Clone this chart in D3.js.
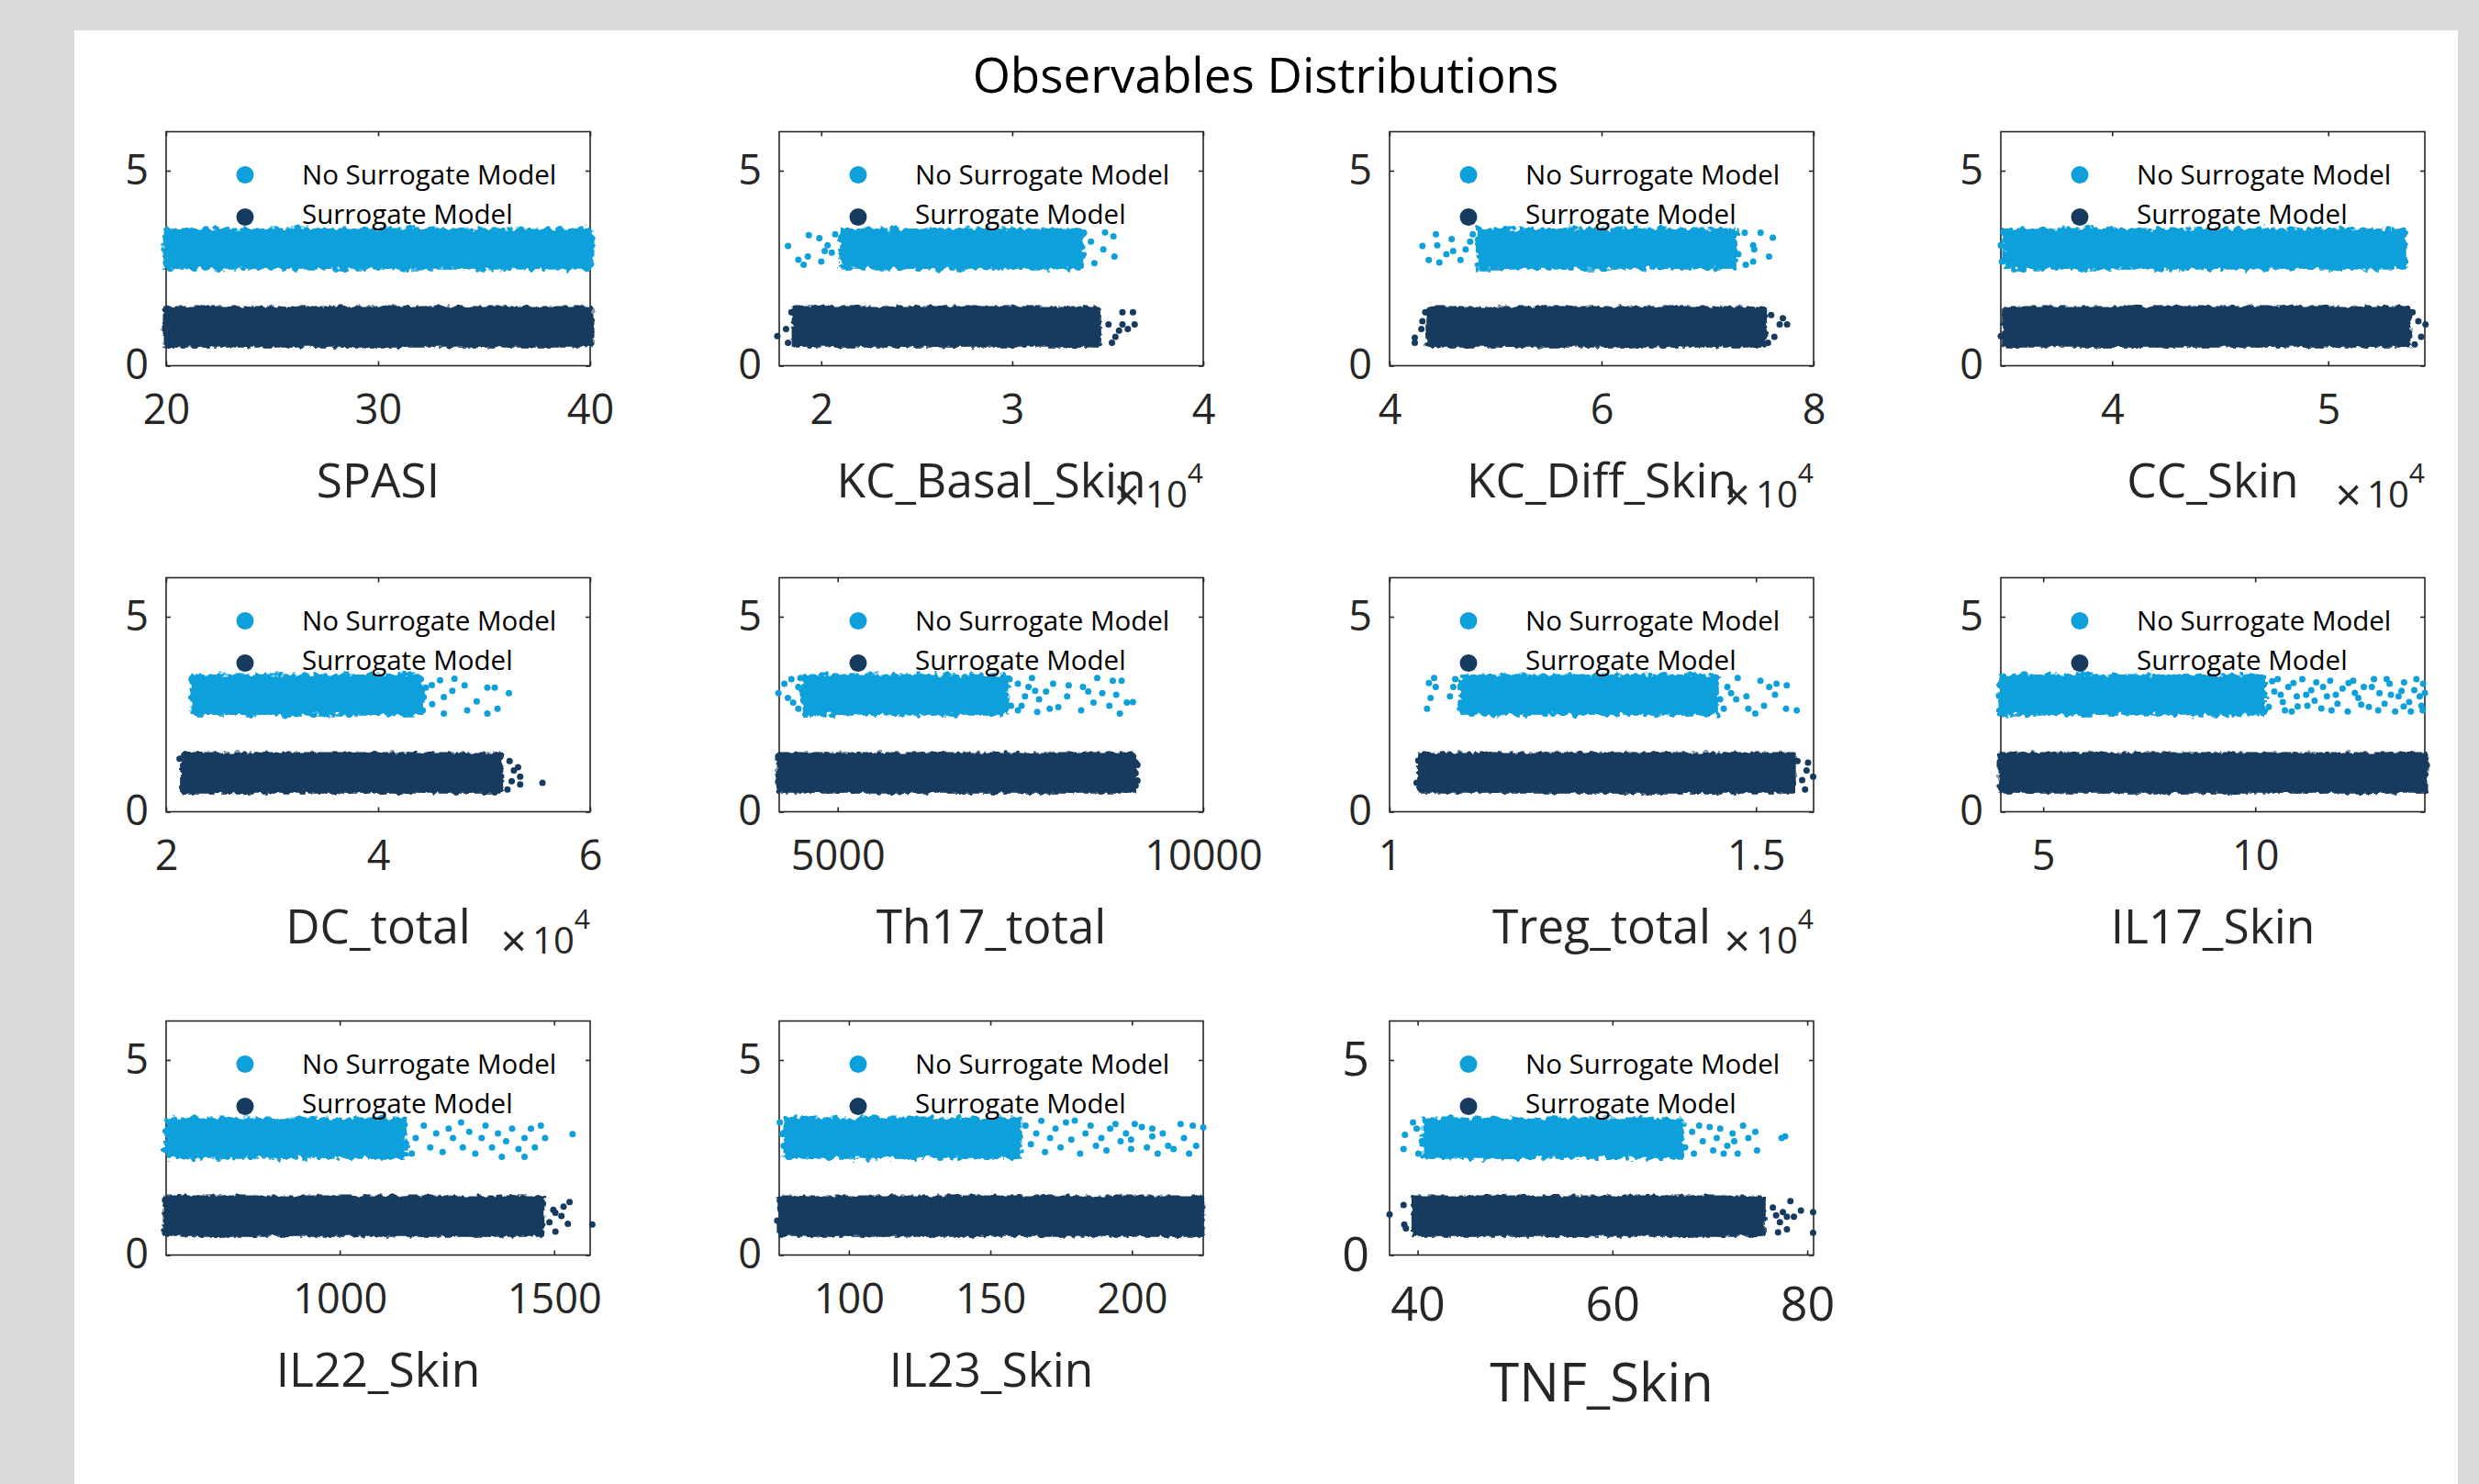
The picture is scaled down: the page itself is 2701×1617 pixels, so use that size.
<!DOCTYPE html>
<html><head><meta charset="utf-8">
<script src="https://cdn.jsdelivr.net/npm/d3@7/dist/d3.min.js"></script>
<style>html,body{margin:0;padding:0;background:#d9d9d9;}svg{display:block;}</style>
</head><body>
<svg id="chart" width="2701" height="1617"></svg>
<script>
// ---------------- data ----------------
const chartTitle = "Observables Distributions";
const observables = ["SPASI","KC_Basal_Skin","KC_Diff_Skin","CC_Skin","DC_total","Th17_total","Treg_total","IL17_Skin","IL22_Skin","IL23_Skin","TNF_Skin"];
const xLimits = [[20,40],[17800,40000],[40000,80000],[34850,54470],[20000,60000],[4200,10000],[10000,15786],[4,14],[595,1584],[75.4,225.2],[37.12,80.65]];
const xTickValues = [[20,30,40],[20000,30000,40000],[40000,60000,80000],[40000,50000],[20000,40000,60000],[5000,10000],[10000,15000],[5,10],[1000,1500],[100,150,200],[40,60,80]];
const exponents = [0,4,4,4,4,0,4,0,0,0,0];
const yLimits = [0,6];
const yTickValues = [0,5];
const seriesNames = ["No Surrogate Model","Surrogate Model"];
const seriesLevels = [3,1];
const jitterHalfWidth = 0.45;

// dense part of each cloud: [xFrom, xTo]
const coreNoSurrogate = [[20,40],[21100,33600],[48500,72500],[35100,53500],[22600,44000],[4540,7300],[11000,14450],[4,10.2],[598,1150],[78,160],[40.8,67.0]];
const coreSurrogate   = [[20,40],[18620,34490],[43700,75300],[35050,53700],[21700,51500],[4200,9050],[10420,15500],[4,14],[595,1470],[76,224.5],[39.7,75.4]];

// scattered samples outside the dense part: [x, y]
const sparseNoSurrogate = [
  [],
  [[18260,3.07],[18800,2.72],[19080,2.59],[19350,3.35],[19300,2.80],[19900,3.27],[20000,2.67],[20330,3.09],[20550,2.90],[20730,3.37],[20180,2.94],[33750,3.41],[34120,3.18],[34300,2.63],[34860,3.42],[34770,2.98],[35300,3.32],[35350,2.80],[33200,3.45],[32840,3.25],[32100,2.78],[32660,2.63]],
  [[43100,3.07],[43700,2.71],[44370,3.37],[44500,3.09],[44700,2.65],[45360,2.86],[45860,3.25],[46000,2.94],[46690,2.71],[47180,2.98],[47850,3.37],[47600,3.18],[73500,3.41],[73600,2.59],[74300,3.09],[74400,2.98],[74300,2.67],[75000,3.41],[75800,2.80],[76150,3.28],[72900,2.86],[72400,3.41]],
  [[34850,3.09],[34900,2.67],[35340,3.37],[53500,3.37],[53500,2.63]],
  [[22400,3.40],[23000,2.57],[44300,2.94],[45070,3.25],[45840,3.37],[46200,2.94],[46200,2.52],[47200,3.41],[48160,3.24],[48400,2.60],[49300,2.83],[50300,3.18],[50300,2.52],[51260,2.64],[51000,3.18],[52340,3.04],[44500,3.18],[45100,2.76],[47000,3.10],[44200,2.60],[44000,3.40]],
  [[4189,3.04],[4270,3.28],[4319,2.92],[4391,2.80],[4367,3.40],[4462,3.20],[4462,2.64],[4490,3.43],[7370,2.72],[7465,3.28],[7562,2.96],[7657,3.43],[7730,2.56],[7850,3.08],[7946,3.28],[8018,2.68],[8138,2.96],[8160,3.24],[8330,2.60],[8355,3.20],[8499,2.80],[8550,3.43],[8619,3.04],[8715,2.72],[8763,3.36],[8859,2.52],[8883,3.36],[8955,2.80],[9038,2.81],[8810,3.00],[8427,3.08],[7515,2.72],[7610,3.20],[7755,2.88],[7900,2.64],[7465,2.60],[7350,3.40],[7700,3.10]],
  [[10512,2.64],[10537,3.30],[10560,2.92],[10608,3.43],[10630,3.20],[10824,2.96],[10896,3.40],[10870,3.20],[14510,2.88],[14610,3.20],[14750,3.43],[14730,2.88],[14895,2.64],[14870,2.96],[14990,2.52],[15060,3.36],[15110,2.72],[15180,3.20],[15260,3.00],[15280,3.28],[15420,3.24],[15410,2.64],[15556,2.60],[14660,3.04],[14560,2.64]],
  [[10.32,2.69],[10.45,3.08],[10.53,3.40],[10.65,2.81],[10.78,3.20],[10.86,2.57],[10.98,2.96],[11.11,3.40],[11.23,2.72],[11.32,3.12],[11.44,3.32],[11.56,2.65],[11.69,2.96],[11.77,3.36],[11.94,2.77],[12.06,3.16],[12.18,2.57],[12.31,3.36],[12.43,2.92],[12.56,3.20],[12.68,2.69],[12.80,3.40],[12.93,3.04],[13.05,2.77],[13.17,3.28],[13.30,2.57],[13.38,2.96],[13.51,3.32],[13.63,2.81],[13.75,3.12],[13.88,2.96],[13.96,3.28],[13.92,2.72],[13.67,2.57],
   [10.4,3.35],[10.6,3.0],[10.9,3.3],[11.0,2.7],[11.4,2.85],[11.6,3.2],[11.9,3.0],[12.2,3.3],[12.5,2.75],[12.9,2.6],[13.2,3.0],[13.5,2.7],[13.8,3.4],[14.0,3.05],[10.7,2.6],[11.2,3.0],[11.8,2.6],[12.35,3.05],[12.75,3.2],[13.1,3.4],[13.45,3.1],[13.95,2.6]],
  [[1168,2.60],[1177,3.00],[1196,3.32],[1211,2.76],[1225,3.12],[1240,2.64],[1254,3.24],[1264,3.00],[1283,3.40],[1287,2.76],[1302,3.16],[1316,2.60],[1331,3.00],[1340,3.32],[1355,2.76],[1369,3.12],[1378,2.52],[1388,2.92],[1402,3.24],[1417,2.72],[1431,3.00],[1446,3.24],[1455,2.76],[1469,3.32],[1479,3.00],[1543,3.10],[1431,2.52]],
  [[75.6,3.40],[77,2.80],[76.5,3.1],[162.4,3.32],[164.3,2.84],[166.2,3.12],[168.0,3.44],[169.3,2.64],[171.1,3.00],[173.0,3.24],[174.8,2.76],[176.7,3.40],[178.6,2.96],[179.8,3.45],[181.7,2.60],[183.6,3.12],[185.4,3.32],[187.3,2.80],[189.2,3.00],[191.0,2.68],[192.3,3.24],[194.2,3.36],[196.0,2.92],[197.9,3.12],[199.7,2.72],[201.0,3.36],[203.5,3.28],[205.3,2.76],[207.2,3.04],[209.1,2.60],[210.9,3.12],[212.8,2.80],[214.7,2.72],[217.2,3.36],[218.4,3.00],[220.2,2.60],[221.5,3.32],[222.7,2.80],[225.2,3.27],[207.2,3.24],[199.7,2.96]],
  [[38.56,2.72],[38.7,3.08],[39.53,3.40],[40.08,2.60],[39.9,3.24],[40.43,2.92],[41.5,3.44],[67.46,2.76],[68.18,3.16],[68.36,2.60],[68.9,3.32],[69.98,3.28],[70.34,2.68],[70.71,3.00],[71.06,3.24],[71.79,2.80],[72.33,3.12],[72.86,2.60],[73.41,3.32],[73.95,3.00],[74.67,3.16],[74.85,2.68],[77.37,3.00],[77.73,3.04],[71.42,2.60],[69.27,2.92],[72.5,2.92]]
];
const sparseSurrogate = [
  [],
  [[17700,0.76],[18160,0.94],[18260,0.59],[18440,1.37],[35040,1.06],[35400,0.74],[35770,1.06],[35770,1.37],[36320,1.37],[36410,1.06],[36050,0.94],[35220,0.59],[35590,0.90]],
  [[42380,0.72],[42380,0.59],[43000,0.94],[43100,1.14],[43370,1.37],[44000,0.55],[76000,1.30],[76800,1.06],[77500,1.06],[76300,0.74],[75700,0.59],[77100,1.22]],
  [[34850,0.76],[35100,1.14],[54170,1.14],[54500,1.06],[54300,0.74],[54000,0.55],[53900,1.37]],
  [[21270,1.36],[55500,0.74],[53400,0.70],[53400,0.90],[53200,1.14],[52400,1.30],[52200,0.57],[52800,1.06],[52600,0.78]],
  [[9075,0.99],[9075,0.67],[8930,1.42],[9100,1.2],[9100,0.8]],
  [[10393,1.31],[10369,0.74],[15566,1.30],[15710,1.26],[15780,0.90],[15690,1.06],[15670,0.57],[15630,0.81]],
  [],
  [[1589,0.78],[1536,1.36],[1532,0.80],[1503,0.60],[1517,1.00],[1498,1.16],[1474,1.32],[1522,1.24],[1489,0.84],[1503,1.08]],
  [[74.7,0.88],[76.0,1.16]],
  [[37.12,1.04],[38.56,1.28],[38.63,0.78],[38.8,0.68],[76.47,1.22],[77.19,0.84],[77.91,0.98],[78.27,1.38],[78.63,0.98],[77.91,0.66],[77.0,0.58],[79.35,1.14],[80.6,1.10],[80.6,0.57],[76.8,1.02],[77.5,1.10]]
];

// ---------------- layout & style ----------------
const FONT = "'Open Sans', Lato, sans-serif";
const seriesColors = ["#0DA0DA", "#173A5F"];
const axisColor = "#262626";
const colLeft = [181, 849, 1514, 2180];
const rowTop = [143.5, 629.5, 1112.5];
const axW = 462, axH = 255, tickLen = 5, markerR = 3.5;

const svg = d3.select("#chart");
// edge roughening so the dense clouds read as piles of markers
const defs = svg.append("defs");
function roughFilter(id, scale, freq, seed) {
  const f = defs.append("filter").attr("id", id)
    .attr("x", "-3%").attr("y", "-40%").attr("width", "106%").attr("height", "180%");
  f.append("feTurbulence").attr("type", "fractalNoise").attr("baseFrequency", freq)
    .attr("numOctaves", 2).attr("seed", seed).attr("result", "noise");
  f.append("feDisplacementMap").attr("in", "SourceGraphic").attr("in2", "noise")
    .attr("scale", scale).attr("xChannelSelector", "R").attr("yChannelSelector", "G");
}
roughFilter("roughLight", 12, 0.14, 5);
roughFilter("roughDark", 7, 0.16, 9);
const bandFilters = ["url(#roughLight)", "url(#roughDark)"];

svg.append("rect").attr("width", 2701).attr("height", 1617).attr("fill", "#d9d9d9");
svg.append("rect").attr("x", 81).attr("y", 33).attr("width", 2597).attr("height", 1584).attr("fill", "#ffffff");
svg.append("text").attr("x", 1379).attr("y", 101).attr("text-anchor", "middle")
  .attr("font-family", FONT).attr("font-size", 53).attr("fill", "#000").text(chartTitle);

function styleAxis(sel, fs) {
  sel.select(".domain").remove();
  sel.selectAll("line").attr("stroke", axisColor).attr("stroke-width", 1.6);
  sel.selectAll("text").attr("font-family", FONT).attr("font-size", fs).attr("fill", axisColor);
}

observables.forEach((name, i) => {
  const col = i % 4, row = Math.floor(i / 4);
  const L = colLeft[col], T = rowTop[row], R = L + axW, B = T + axH;
  const big = (i === observables.length - 1);
  const tickFs = big ? 52 : 45, labelFs = big ? 58 : 51.5;
  const x = d3.scaleLinear().domain(xLimits[i]).range([L, R]);
  const y = d3.scaleLinear().domain(yLimits).range([B, T]);
  const g = svg.append("g");

  g.append("rect").attr("x", L).attr("y", T).attr("width", axW).attr("height", axH)
    .attr("fill", "none").attr("stroke", axisColor).attr("stroke-width", 1.6);

  const p = Math.pow(10, exponents[i]);
  const fmt = v => String(+(v / p).toPrecision(6));
  styleAxis(g.append("g").attr("transform", `translate(0,${B})`)
    .call(d3.axisBottom(x).tickValues(xTickValues[i]).tickFormat(fmt).tickSizeInner(-tickLen).tickSizeOuter(0).tickPadding(big ? 35 : 32)), tickFs);
  styleAxis(g.append("g").attr("transform", `translate(0,${T})`)
    .call(d3.axisTop(x).tickValues(xTickValues[i]).tickFormat("").tickSizeInner(-tickLen).tickSizeOuter(0)), tickFs);
  styleAxis(g.append("g").attr("transform", `translate(${L},0)`)
    .call(d3.axisLeft(y).tickValues(yTickValues).tickFormat(d3.format("d")).tickSizeInner(-tickLen).tickSizeOuter(0).tickPadding(big ? 22 : 19)), tickFs);
  styleAxis(g.append("g").attr("transform", `translate(${R},0)`)
    .call(d3.axisRight(y).tickValues(yTickValues).tickFormat("").tickSizeInner(-tickLen).tickSizeOuter(0)), tickFs);

  const series = [
    {name: seriesNames[0], level: seriesLevels[0], color: seriesColors[0], core: coreNoSurrogate[i], pts: sparseNoSurrogate[i], filter: bandFilters[0]},
    {name: seriesNames[1], level: seriesLevels[1], color: seriesColors[1], core: coreSurrogate[i], pts: sparseSurrogate[i], filter: bandFilters[1]}
  ];
  series.forEach(s => {
    const yTop = y(s.level + jitterHalfWidth), yBot = y(s.level - jitterHalfWidth);
    g.append("rect")
      .attr("x", x(s.core[0]) - markerR).attr("width", x(s.core[1]) - x(s.core[0]) + 2 * markerR)
      .attr("y", yTop - markerR).attr("height", yBot - yTop + 2 * markerR)
      .attr("rx", markerR).attr("fill", s.color).attr("filter", s.filter);
    g.selectAll(null).data(s.pts).join("circle")
      .attr("cx", d => x(d[0])).attr("cy", d => y(d[1])).attr("r", markerR).attr("fill", s.color);
  });

  // legend
  series.forEach((s, k) => {
    g.append("circle").attr("cx", L + 86).attr("cy", T + 47 + 46 * k).attr("r", 9.5).attr("fill", s.color);
    g.append("text").attr("x", L + 148).attr("y", T + 57 + 43 * k)
      .attr("font-family", FONT).attr("font-size", 29.5).attr("fill", "#000").text(s.name);
  });

  // x label
  g.append("text").attr("x", (L + R) / 2).attr("y", B + (big ? 159 : 143)).attr("text-anchor", "middle")
    .attr("font-family", FONT).attr("font-size", labelFs).attr("fill", axisColor).text(name);

  // exponent
  if (exponents[i]) {
    const t = g.append("text").attr("x", R).attr("y", B + 154).attr("text-anchor", "end")
      .attr("font-family", FONT).attr("fill", axisColor);
    t.append("tspan").attr("font-size", 50).attr("dy", 4).text("\u00D7");
    t.append("tspan").attr("font-size", 40).attr("dx", 6).attr("dy", -4).text("10");
    t.append("tspan").attr("font-size", 30).attr("dy", -27).text(String(exponents[i]));
  }
});
</script>
</body></html>
